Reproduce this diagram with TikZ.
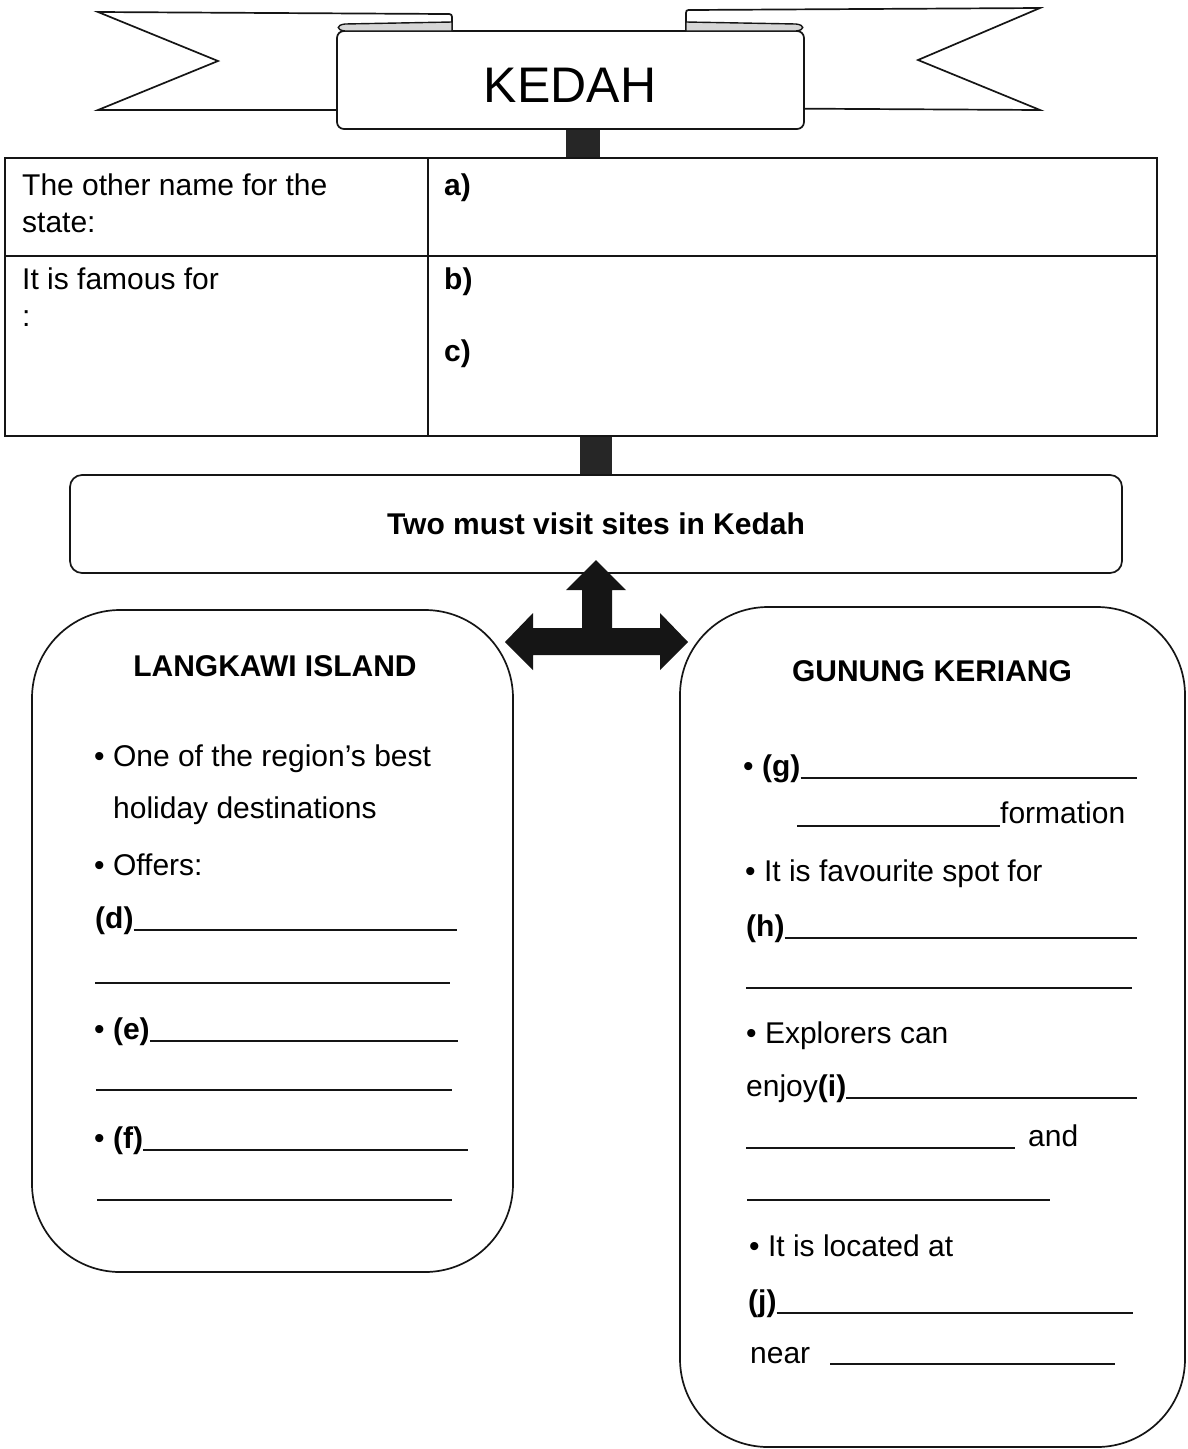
\documentclass[tikz,border=0pt]{standalone}
\usepackage{fontspec}
\setmainfont{Liberation Sans}
\usetikzlibrary{calc}
\definecolor{kdink}{HTML}{151515}
\definecolor{kdblock}{HTML}{262626}
\definecolor{kdcurl}{HTML}{D6D6D6}
\newcommand{\kdbody}{\fontsize{30}{36}\selectfont}
\newcommand{\kdtitle}{\fontsize{50}{60}\selectfont}
\tikzset{
  kdframe/.style={draw=kdink,line width=1.7pt,fill=white,inner sep=0pt},
  scroll/.style={kdframe,rounded corners=7pt},
  factbox/.style={kdframe},
  sitebox/.style={kdframe,rounded corners=12pt,font=\kdbody\bfseries},
  sitecard/.style={kdframe,rounded corners=88pt},
  ribbon/.style={draw=kdink,line width=1.7pt,fill=white,line join=miter},
  curl/.style={draw=kdink,line width=1.4pt,fill=kdcurl},
  linkblock/.style={fill=kdblock},
  txt/.style={anchor=base west,inner sep=0pt,font=\kdbody},
  sitehead/.style={anchor=base,inner sep=0pt,font=\kdbody\bfseries},
  fillline/.style={draw=kdink,line width=1.3pt},
  bigarrow/.style={fill=kdink}
}
\begin{document}
\begin{tikzpicture}[x=1pt,y=-1pt]
  \useasboundingbox (0,0) rectangle (1187,1449);
  % banner
  \path[ribbon] (98,12) -- (446,14) .. controls (452,14) .. (452,20) -- (452,110) -- (98,110) -- (218,61) -- cycle;
  \path[ribbon] (1040,8) -- (691,10) .. controls (686,10) .. (686,16) -- (686,108) -- (1040,110) -- (918,60) -- cycle;
  \node[scroll,minimum width=467pt,minimum height=98pt] (title) at (570.5,80) {};
  \path[curl] (452,31) -- (452,22) -- (345,24) .. controls (336,25) and (336,30) .. (345,31) -- cycle;
  \path[curl] (686,31) -- (686,22) -- (796,24) .. controls (805,25) and (805,30) .. (796,31) -- cycle;
  \node[inner sep=0pt,font=\kdtitle] (kedah) at (570,85) {KEDAH};

  % facts table
  \node[factbox,minimum width=1152pt,minimum height=278pt] (facts) at (581,297) {};
  \coordinate (divx) at (428,0);
  \coordinate (rowy) at (0,256);
  \draw[kdframe] (facts.north -| divx) -- (facts.south -| divx);
  \draw[kdframe] (facts.west |- rowy) -- (facts.east |- rowy);
  \node[txt] (namelbl) at (22,195) {The other name for the};
  \node[txt] (namelbl2) at (22,232) {state:};
  \node[txt] (famelbl) at (22,289) {It is famous for};
  \node[txt] (famecolon) at (22,326) {:};
  \node[txt,font=\kdbody\bfseries] (ansa) at (444,195) {a)};
  \node[txt,font=\kdbody\bfseries] (ansb) at (444,289) {b)};
  \node[txt,font=\kdbody\bfseries] (ansc) at (444,361) {c)};

  % sites
  \node[sitebox,minimum width=1052pt,minimum height=98pt] (sites) at (596,524) {Two must visit sites in Kedah};
  \coordinate (topl) at (566,0);
  \coordinate (topr) at (600,0);
  \coordinate (midl) at (580,0);
  \coordinate (midr) at (612,0);
  \path[linkblock] (title.south -| topl) rectangle (facts.north -| topr);
  \path[linkblock] (facts.south -| midl) rectangle (sites.north -| midr);

  \node[sitecard,minimum width=481pt,minimum height=662pt] (langkawi) at (272.5,941) {};
  \node[sitecard,minimum width=505pt,minimum height=840pt] (keriang) at (932.5,1027) {};

  \path[bigarrow] (596,560) -- (626,590) -- (612,590) -- (612,628) -- (660,628) -- (660,613)
    -- (688,642) -- (660,670) -- (660,655) -- (533,655) -- (533,670) -- (505,642)
    -- (533,613) -- (533,628) -- (582,628) -- (582,590) -- (566,590) -- cycle;

  % langkawi island
  \node[sitehead] (lkhead) at (275,676) {LANGKAWI ISLAND};
  \node[txt] (lk1) at (94,766) {• One of the region’s best};
  \node[txt] (lk2) at (113,818) {holiday destinations};
  \node[txt] (lk3) at (94,875) {• Offers:};
  \node[txt] (lkd) at (95,928) {\textbf{(d)}};
  \draw[fillline] ([yshift=-2pt]lkd.base east) -- (457,930);
  \draw[fillline] (95,983) -- (450,983);
  \node[txt] (lke) at (94,1039) {• \textbf{(e)}};
  \draw[fillline] ([yshift=-2pt]lke.base east) -- (458,1041);
  \draw[fillline] (96,1090) -- (452,1090);
  \node[txt] (lkf) at (94,1148) {• \textbf{(f)}};
  \draw[fillline] ([yshift=-2pt]lkf.base east) -- (468,1150);
  \draw[fillline] (97,1200) -- (452,1200);

  % gunung keriang
  \node[sitehead] (gkhead) at (932,681) {GUNUNG KERIANG};
  \node[txt] (gkg) at (743,776) {• \textbf{(g)}};
  \draw[fillline] ([yshift=-2pt]gkg.base east) -- (1137,778);
  \node[txt] (gkform) at (1000,823) {formation};
  \draw[fillline] (797,826) -- ([yshift=-3pt]gkform.base west);
  \node[txt] (gk2) at (745,881) {• It is favourite spot for};
  \node[txt] (gkh) at (746,936) {\textbf{(h)}};
  \draw[fillline] ([yshift=-2pt]gkh.base east) -- (1137,938);
  \draw[fillline] (746,988) -- (1132,988);
  \node[txt] (gk3) at (746,1043) {• Explorers can};
  \node[txt] (gki) at (746,1096) {enjoy\textbf{(i)}};
  \draw[fillline] ([yshift=-2pt]gki.base east) -- (1137,1098);
  \node[txt] (gkand) at (1028,1146) {and};
  \draw[fillline] (746,1148) -- (1015,1148);
  \draw[fillline] (747,1200) -- (1050,1200);
  \node[txt] (gk4) at (749,1256) {• It is located at};
  \node[txt] (gkj) at (748,1311) {\textbf{(j)}};
  \draw[fillline] ([yshift=-2pt]gkj.base east) -- (1133,1313);
  \node[txt] (gknear) at (750,1363) {near};
  \draw[fillline] (830,1364) -- (1115,1364);
\end{tikzpicture}
\end{document}
